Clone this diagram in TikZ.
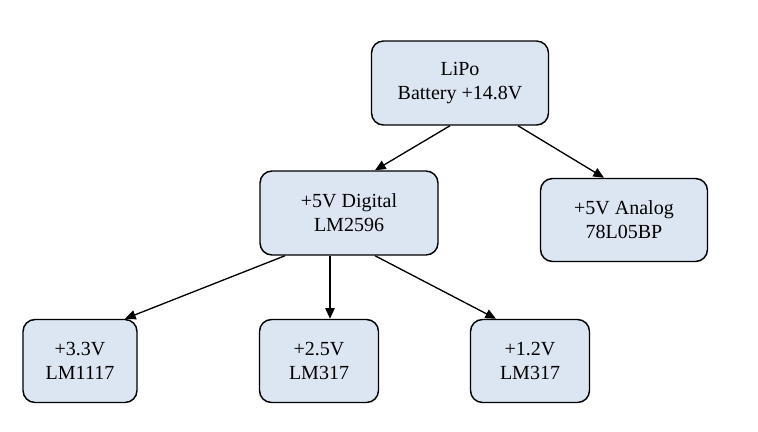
\documentclass[tikz,border=0pt]{standalone}
\usepackage{fontspec}
\setmainfont{Liberation Serif}
\usetikzlibrary{arrows.meta}
\definecolor{boxfill}{HTML}{DCE6F2}

\begin{document}
\begin{tikzpicture}[x=0.75pt,y=-0.75pt]
\tikzset{
  block/.style={draw=black,line width=1.1pt,fill=boxfill,rounded corners=9pt,
    align=center,inner sep=0pt,font=\fontsize{15}{18}\selectfont},
  link/.style={-{Triangle[length=8pt,width=7pt]},line width=1pt}
}
\useasboundingbox (0,0) rectangle (758,432);
\node[block,minimum width=132.75pt,minimum height=63pt] (lipo) at (460,83) {LiPo\\ Battery +14.8V};
\node[block,minimum width=133.5pt,minimum height=63pt] (digital) at (349,213) {+5V Digital\\LM2596};
\node[block,minimum width=125.25pt,minimum height=62.25pt] (analog) at (624,220) {+5V Analog\\78L05BP};
\node[block,minimum width=85.5pt,minimum height=62.25pt] (vthree) at (80,361) {+3.3V\\LM1117};
\node[block,minimum width=89.25pt,minimum height=62.25pt] (vtwo) at (319,361) {+2.5V\\LM317};
\node[block,minimum width=89.25pt,minimum height=62.25pt] (vone) at (530,361) {+1.2V\\LM317};
\draw[link] ([xshift=-7.5pt]lipo.south) -- ([xshift=19.5pt]digital.north);
\draw[link] ([xshift=43.5pt]lipo.south) -- ([xshift=-15pt]analog.north);
\draw[link] ([xshift=-48pt]digital.south) -- ([xshift=33.75pt]vthree.north);
\draw[link] ([xshift=-14.25pt]digital.south) -- ([xshift=8.25pt]vtwo.north);
\draw[link] ([xshift=19.5pt]digital.south) -- ([xshift=-25.5pt]vone.north);
\end{tikzpicture}
\end{document}
